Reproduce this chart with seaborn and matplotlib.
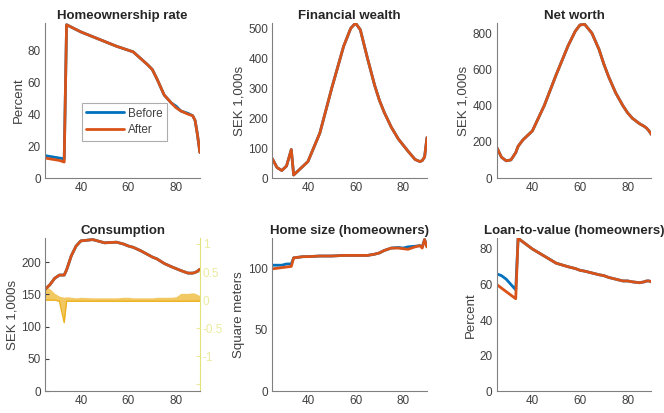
import matplotlib
matplotlib.use("Agg")
import matplotlib.pyplot as plt
import seaborn as sns

ages = [25, 27, 29, 31, 33, 34, 36, 38, 40, 45, 50, 55, 58, 60, 62, 65, 68, 70,
        72, 75, 78, 80, 82, 85, 87, 88, 89, 90]

own_before = [14, 13.5, 13, 12.5, 12, 96, 94.5, 93, 91.5, 88.5, 85.5, 82.5, 81, 80,
              79, 75, 71, 68, 62, 52, 47, 45, 42, 40.5, 39, 36, 27, 16]
own_after = [12.5, 12, 11.5, 11, 10, 96, 94.5, 93, 91.5, 88.5, 85.5, 82.5, 81, 80,
             79, 75, 71, 68, 62, 52, 47, 44, 42, 40, 39, 36, 27, 16]

fin_before = [65, 35, 25, 40, 95, 10, 25, 40, 55, 150, 300, 440, 500, 517, 495, 400,
              310, 260, 220, 170, 130, 110, 90, 62, 55, 58, 70, 135]
fin_after = [65, 35, 25, 40, 95, 10, 25, 40, 55, 150, 300, 440, 500, 517, 495, 400,
             310, 260, 220, 170, 130, 110, 90, 62, 55, 58, 70, 135]

nw_before = [170, 115, 95, 100, 140, 175, 210, 235, 260, 400, 570, 730, 810, 845,
             848, 800, 710, 630, 560, 470, 400, 360, 330, 300, 285, 275, 260, 240]
nw_after = [170, 115, 95, 100, 140, 175, 210, 235, 260, 400, 570, 730, 810, 845,
            848, 800, 710, 630, 560, 470, 400, 360, 330, 300, 285, 275, 260, 240]

cons_before = [158, 165, 175, 180, 180, 188, 210, 225, 233, 235, 230, 231, 228, 225,
               223, 218, 212, 208, 205, 198, 193, 190, 187, 183, 183, 184, 186, 189]
cons_after = [158, 165, 175, 180, 180, 188, 210, 225, 233, 235, 230, 231, 228, 225,
              223, 218, 212, 208, 205, 198, 193, 190, 187, 183, 183, 184, 186, 189]
# yellow band on the right-hand consumption axis
cons_diff_top = [0.25, 0.2, 0.12, 0.07, 0.05, 0.06, 0.05, 0.04, 0.05, 0.04, 0.04,
                 0.04, 0.05, 0.05, 0.04, 0.04, 0.04, 0.04, 0.05, 0.05, 0.05, 0.06,
                 0.12, 0.12, 0.13, 0.12, 0.1, 0.08]
cons_diff_low = [0.0, 0.0, 0.0, -0.02, -0.4, -0.02, -0.02, -0.02, -0.02, -0.02,
                 -0.02, -0.02, -0.02, -0.02, -0.02, -0.02, -0.02, -0.02, -0.02,
                 -0.02, -0.02, -0.02, -0.02, -0.02, -0.02, -0.02, -0.02, -0.02]

size_before = [103, 103, 103, 104, 104, 109, 109.5, 110, 110, 110.5, 110.5, 111, 111,
               111, 111, 111, 112, 113, 115, 117, 117.5, 117, 118, 118.5, 119, 118,
               124, 118]
size_after = [100, 100.5, 101, 101.5, 102, 109, 109.5, 110, 110, 110.5, 110.5, 111,
              111, 111, 111, 111, 112, 113, 115, 117, 117, 116.5, 116, 118, 119, 117,
              124, 118]

ltv_before = [66, 65, 63, 60, 57, 86, 84, 82, 80, 76, 72, 70, 69, 68, 67.5, 66.5,
              65.5, 65, 64, 63, 62, 62, 61.5, 61, 61.5, 62, 62, 61.5]
ltv_after = [60, 58, 56, 54, 52, 86, 84, 82, 80, 76, 72, 70, 69, 68, 67.5, 66.5,
             65.5, 65, 64, 63, 62, 62, 61.5, 61, 61.5, 62, 62, 61.5]

panels = [
    ("Homeownership rate", "Percent", own_before, own_after, 97, [0, 20, 40, 60, 80]),
    ("Financial wealth", "SEK 1,000s", fin_before, fin_after, 517, [0, 100, 200, 300, 400, 500]),
    ("Net worth", "SEK 1,000s", nw_before, nw_after, 855, [0, 200, 400, 600, 800]),
    ("Consumption", "SEK 1,000s", cons_before, cons_after, 237, [0, 50, 100, 150, 200]),
    ("Home size (homeowners)", "Square meters", size_before, size_after, 125, [0, 50, 100]),
    ("Loan-to-value (homeowners)", "Percent", ltv_before, ltv_after, 86, [0, 20, 40, 60, 80]),
]

sns.set_style("white")
plt.rcParams["font.family"] = ["Liberation Sans", "DejaVu Sans"]

blue = "#0072BD"
orange = "#D95319"
yellow = "#EDB120"
grey = "#404040"

fig = plt.figure(figsize=(6.64, 4.13), dpi=100)
lefts = [0.068, 0.410, 0.748]
bottoms = [0.569, 0.053]
heights = [0.375, 0.370]

for i, (title, ylab, before, after, ytop, yticks) in enumerate(panels):
    row, col = divmod(i, 3)
    ax = fig.add_axes([lefts[col], bottoms[row], 0.233, heights[row]])
    sns.lineplot(x=ages, y=before, ax=ax, color=blue, linewidth=2, label="Before")
    sns.lineplot(x=ages, y=after, ax=ax, color=orange, linewidth=2, label="After")
    ax.set_xlim(25, 90)
    ax.set_ylim(0, ytop)
    ax.set_xticks([40, 60, 80])
    ax.set_yticks(yticks)
    ax.set_title(title, fontsize=9.5, fontweight="bold", pad=3)
    ax.set_ylabel(ylab, fontsize=9.5, color=grey, labelpad=2)
    ax.tick_params(labelsize=8.5, colors=grey, direction="in", length=3, pad=3)
    for s in ["top", "right"]:
        ax.spines[s].set_visible(False)
    for s in ["left", "bottom"]:
        ax.spines[s].set_color("#808080")
        ax.spines[s].set_linewidth(0.8)

    if i == 0:
        leg = ax.legend(loc="upper left", bbox_to_anchor=(0.235, 0.485), fontsize=8.5,
                        handlelength=3.2, frameon=True, fancybox=False,
                        borderpad=0.4, labelspacing=0.4, handletextpad=0.3,
                        borderaxespad=0)
        leg.get_frame().set_edgecolor("#999999")
        leg.get_frame().set_linewidth(0.8)
        for t in leg.get_texts():
            t.set_color(grey)
    else:
        ax.get_legend().remove()

    if i == 3:
        ax2 = ax.twinx()
        ax2.fill_between(ages, cons_diff_low, cons_diff_top, color=yellow,
                         alpha=0.7, linewidth=0)
        sns.lineplot(x=ages, y=cons_diff_low, ax=ax2, color=yellow, linewidth=1)
        ax2.set_ylim(-1.62, 1.1)
        ax2.set_yticks([-1.5, -1, -0.5, 0, 0.5, 1])
        ax2.set_yticklabels(["", "-1", "-0.5", "0", "0.5", "1"])
        ax2.tick_params(labelsize=8.5, colors="#eaea9e", direction="in", length=3, pad=2)
        for s in ["top", "left", "bottom"]:
            ax2.spines[s].set_visible(False)
        ax2.spines["right"].set_color("#e2e27a")
        ax2.set_ylabel("")
        ax.set_zorder(ax2.get_zorder() + 1)
        ax.patch.set_visible(False)

fig.savefig("out.png", dpi=100)
